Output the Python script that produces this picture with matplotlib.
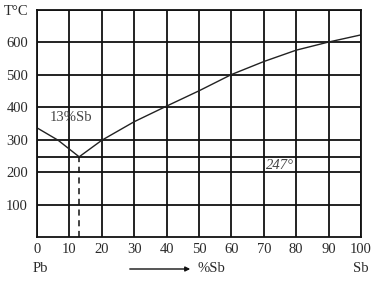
import matplotlib
matplotlib.use("Agg")
import matplotlib.pyplot as plt

# Data
liq_left_x = [0, 6.5, 13]
liq_left_y = [336, 298, 247]
liq_right_x = [13, 20, 30, 40, 50, 60, 70, 80, 90, 100]
liq_right_y = [247, 298, 355, 403, 450, 500, 540, 575, 600, 622]
eutectic_x = 13
eutectic_t = 247
x_ticks = [0, 10, 20, 30, 40, 50, 60, 70, 80, 90, 100]
y_grid = [100, 200, 247, 300, 400, 500, 600, 700]
y_labels = {100: "100", 200: "200", 300: "300", 400: "400", 500: "500", 600: "600", 700: "T°C"}

plt.rcParams['font.family'] = ['Liberation Serif', 'DejaVu Serif']
tc = '#2a2a2a'
fs = 10.5

fig = plt.figure(figsize=(3.78, 2.84), dpi=100)
ax = fig.add_axes([0.098, 0.165, 0.857, 0.8015])
ax.set_xlim(0, 100)
ax.set_ylim(0, 700)

for x in x_ticks:
    ax.axvline(x, color='#111111', lw=1.3, zorder=1)
for y in y_grid:
    ax.axhline(y, color='#111111', lw=1.3, zorder=1)

ax.plot(liq_left_x, liq_left_y, color='#222222', lw=1.0, zorder=2)
ax.plot(liq_right_x, liq_right_y, color='#222222', lw=1.0, zorder=2)
ax.plot([eutectic_x, eutectic_x], [0, eutectic_t], color='#111111', lw=1.1,
        ls=(0, (4, 3)), zorder=2)

ax.set_xticks(x_ticks)
ax.set_xticklabels([str(v) for v in x_ticks], color=tc, fontsize=fs)
yt = sorted(y_labels)
ax.set_yticks(yt)
ax.set_yticklabels([y_labels[v] for v in yt], color=tc, fontsize=fs)
ax.tick_params(length=0)
ax.tick_params(axis='y', pad=6.5)
ax.tick_params(axis='x', pad=4.5)
for s in ax.spines.values():
    s.set_linewidth(1.3)
    s.set_color('#111111')

ax.text(4.0, 367, "13%Sb", color='#444444', fontsize=fs, va='center', ha='left')
ax.text(70.8, 221, "247°", color='#444444', fontsize=fs, va='center', ha='left',
        style='italic')

fig.text(33 / 378, 1 - 268 / 284, "Pb", color=tc, fontsize=fs, va='center', ha='left')
fig.text(353 / 378, 1 - 268 / 284, "Sb", color=tc, fontsize=fs, va='center', ha='left')
fig.text(198 / 378, 1 - 269 / 284, "%Sb", color=tc, fontsize=fs, va='center', ha='left')
fig.add_artist(matplotlib.patches.FancyArrowPatch(
    (127 / 378, 1 - 269 / 284), (193 / 378, 1 - 269 / 284),
    transform=fig.transFigure, arrowstyle='-|>', mutation_scale=7,
    color='#111111', lw=1.0))

fig.savefig("out.png", dpi=100)
